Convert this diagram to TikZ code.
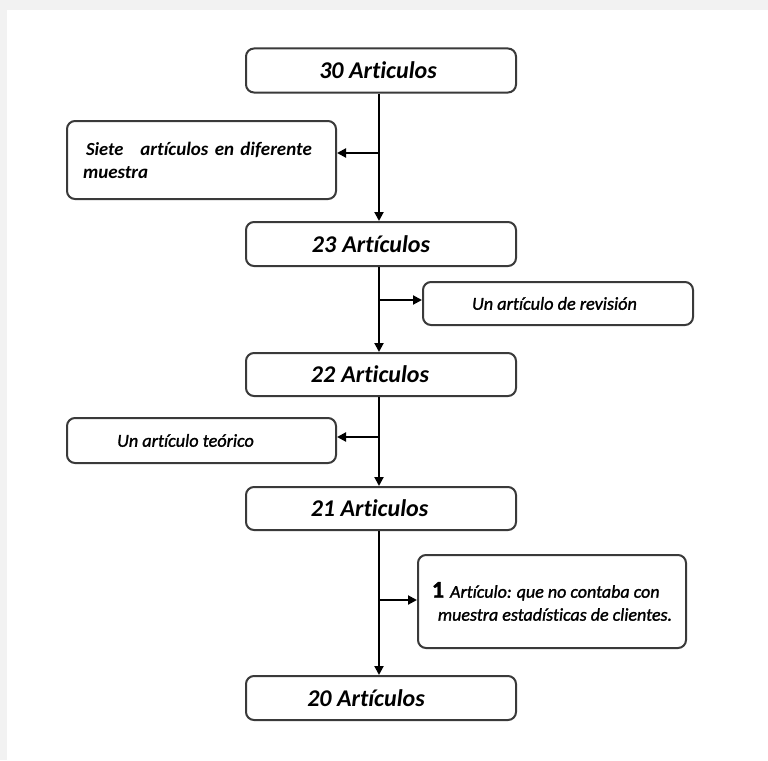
\documentclass[tikz,border=0pt]{standalone}
\usepackage{fontspec}
\setmainfont[Ligatures=NoCommon]{Carlito}
\newfontfamily\semib[FakeBold=1.4,Ligatures=NoCommon]{Carlito}
\usetikzlibrary{arrows.meta}
\definecolor{frame}{HTML}{F2F2F2}
\definecolor{boxline}{HTML}{3A3A3A}
\newcommand{\padr}[1]{\hspace{#1}\null}
\tikzset{
  box/.style={draw=boxline, line width=2pt, rounded corners=8pt, fill=white, inner sep=0pt},
  mainbox/.style={box, minimum width=270pt, minimum height=44pt, font=\fontsize{24}{28}\selectfont\bfseries\itshape},
  sidebox/.style={box, minimum width=270pt, minimum height=44pt, font=\fontsize{18.2}{22}\selectfont\semib\itshape},
  arr/.style={line width=2pt, -{Triangle[length=9pt,width=9pt]}}
}
\begin{document}
\begin{tikzpicture}[x=1pt,y=-1pt]
\fill[frame] (0,0) rectangle (768,760);
\fill[white] (7,10) rectangle (768,760);
\useasboundingbox (0,0) rectangle (768,760);

\node[mainbox] (b30) at (381,70.5) {30 Articulos\padr{6pt}};
\node[box, minimum width=269pt, minimum height=78pt, text width=237pt, align=left,
      font=\fontsize{19}{23}\selectfont\bfseries\itshape] (siete) at (201.5,160)
      {\hspace{3pt}{\fontsize{18.5}{20}\selectfont Siete}\hspace{17pt}artículos en diferente\\muestra};
\node[mainbox] (b23) at (381,244) {23\hspace{6pt}Artículos\padr{20pt}};
\node[sidebox, minimum height=43pt] (rev) at (558,303.5) {Un artículo de revisión\padr{7pt}};
\node[mainbox, minimum height=43pt] (b22) at (381,374.5) {22\hspace{6pt}Articulos\padr{22pt}};
\node[sidebox, minimum width=269pt, minimum height=45pt] (teo) at (201.5,440.5) {Un artículo teórico\padr{32pt}};
\node[mainbox, minimum height=43pt] (b21) at (381,508.5) {21 Articulos\padr{23pt}};
\node[box, minimum width=268pt, minimum height=93pt, align=left,
      font=\fontsize{18}{23}\selectfont\semib\itshape] (one) at (552,601.5)
      {{\fontsize{24}{23}\selectfont\bfseries\upshape 1}\hspace{6pt}Artículo:\hspace{5pt}que no contaba con\\\hspace{6pt}muestra estadísticas de clientes.};
\node[mainbox] (b20) at (381,698) {20 Artículos\padr{30pt}};

\coordinate (j1) at (379,153);
\coordinate (j2) at (379,300);
\coordinate (j3) at (379,437);
\coordinate (j4) at (379,600);

\draw[arr] (b30.south -| j1) -- (b23.north -| j1);
\draw[arr] (j1) -- (siete.east |- j1);
\draw[arr] (b23.south -| j2) -- (b22.north -| j2);
\draw[arr] (j2) -- (rev.west |- j2);
\draw[arr] (b22.south -| j3) -- (b21.north -| j3);
\draw[arr] (j3) -- (teo.east |- j3);
\draw[arr] (b21.south -| j4) -- (b20.north -| j4);
\draw[arr] (j4) -- (one.west |- j4);
\end{tikzpicture}
\end{document}
